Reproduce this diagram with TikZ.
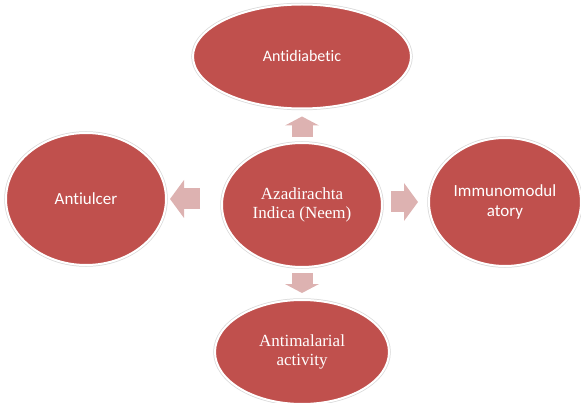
\documentclass[tikz,border=0pt]{standalone}
\usepackage{fontspec}
\setmainfont{Liberation Serif}
\newfontfamily\calibri[Ligatures=NoCommon]{Carlito}
\usepackage{tikz}
\usetikzlibrary{shapes.geometric,arrows.meta,positioning,calc}
\usepackage{xcolor}
\definecolor{neemred}{HTML}{C0504D}
\definecolor{neempink}{HTML}{DDB2B1}

\begin{document}
\begin{tikzpicture}[
  x=1pt, y=1pt,
  effect/.style={ellipse, fill=neemred, draw=white, line width=2pt, preaction={draw=black!15, line width=3.5pt},
    inner sep=0pt, outer sep=0pt, text=white, align=center},
  sans/.style={font=\calibri\fontsize{17}{19.5}\selectfont},
  serif/.style={font=\fontsize{17}{18.5}\selectfont},
  blockarrow/.style={neempink, line width=21pt, -{Triangle[length=14pt, width=38pt, line width=0pt]}},
  blockarrowv/.style={neempink, line width=21pt, -{Triangle[length=9pt, width=34pt, line width=0pt]}},
]
\useasboundingbox (0,0) rectangle (581,402);

% Centre
\node[effect, serif, minimum width=160pt, minimum height=124pt] (neem) at (302,197) {Azadirachta\\Indica (Neem)};

% Activities round it
\node[effect, font=\calibri\fontsize{16}{18}\selectfont, minimum width=218pt, minimum height=104pt] (diab) at (302,345.5) {Antidiabetic};
\node[effect, sans, minimum width=160pt, minimum height=132pt] (ulcer) at (86,203) {Antiulcer};
\node[effect, sans, minimum width=152pt, minimum height=128pt] (immuno) at (505,200) {Immunomodul\\atory};
\node[effect, serif, minimum width=174pt, minimum height=104pt] (mal) at (302,50) {Antimalarial\\activity};

% Block arrows
\draw[blockarrowv, shorten <=6pt, shorten >=8pt] (neem.north) -- (diab.south);
\draw[blockarrow, shorten <=22pt, shorten >=4pt] (ulcer.east -| neem.west) -- (ulcer.east);
\draw[blockarrow, shorten <=9pt, shorten >=11pt] (immuno.west -| neem.east) -- (immuno.west);
\draw[blockarrowv, shorten <=6pt, shorten >=7pt] (neem.south) -- (mal.north);

\end{tikzpicture}
\end{document}
